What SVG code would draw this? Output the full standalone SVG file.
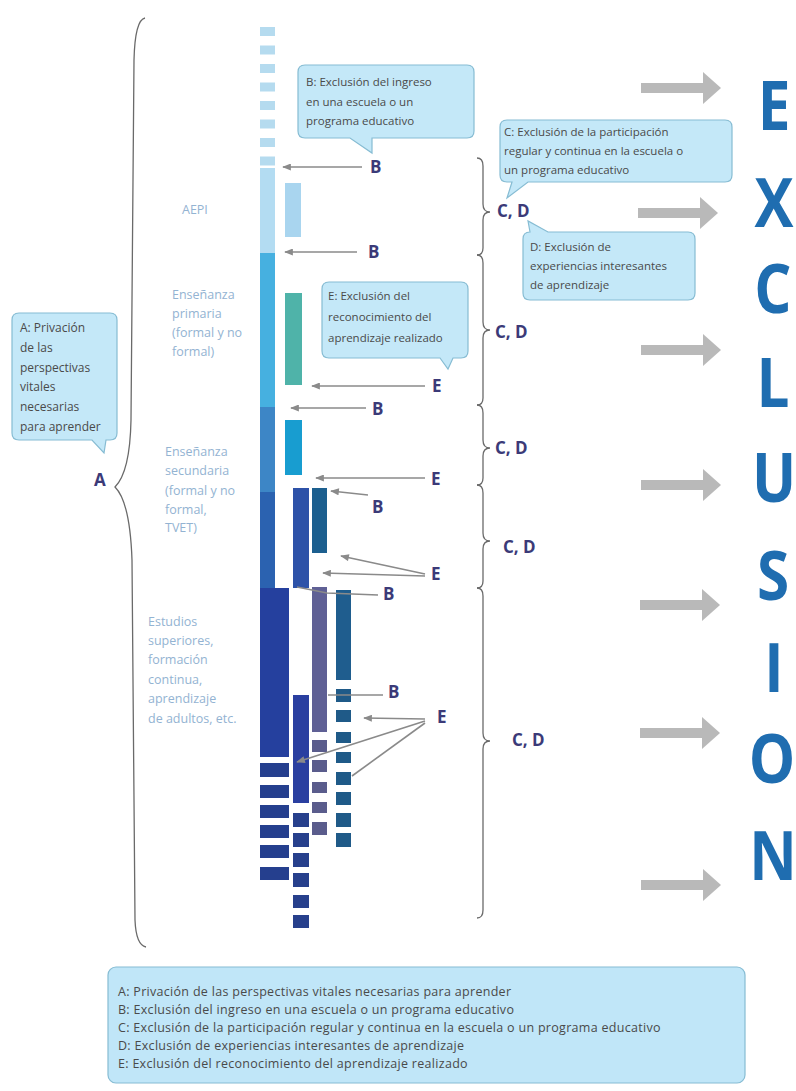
<svg xmlns="http://www.w3.org/2000/svg" width="796" height="1091" viewBox="0 0 796 1091">
<style>
.t{font-family:"Open Sans","Liberation Sans",sans-serif;font-size:11.5px;fill:#4a4a4a}
.ta{font-family:"Open Sans","Liberation Sans",sans-serif;font-size:12px;fill:#4a4a4a}
.lg{font-family:"Open Sans","Liberation Sans",sans-serif;font-size:12.5px;letter-spacing:0.3px;fill:#4a4a4a}
.lb{font-family:"Open Sans","Liberation Sans",sans-serif;font-size:12.5px;fill:#93b3d2}
.k{font-family:"Open Sans","Liberation Sans",sans-serif;font-size:17px;font-weight:700;fill:#3b3a78}
.big{font-family:"Open Sans","Liberation Sans",sans-serif;font-size:68px;font-weight:700;fill:#1f6db0;text-anchor:middle}
.call{fill:#c4e8f8;stroke:#86bcd3;stroke-width:1.2}
.ln{stroke:#8a8a8a;stroke-width:1.6;fill:none}
.br{stroke:#6a6a6a;stroke-width:1.3;fill:none}
.ga{fill:#b9b9b9}
</style>
<defs>
<marker id="ah" viewBox="0 0 10 8" refX="9" refY="4" markerWidth="10" markerHeight="7" markerUnits="userSpaceOnUse" orient="auto"><path d="M0,0 L10,4 L0,8 Z" fill="#8a8a8a"/></marker>
<path id="garrow" d="M0,-5 H62 V-16 L80,0 L62,16 V5 H0 Z"/>
</defs>
<rect width="796" height="1091" fill="#ffffff"/>

<g id="left-brace"><path class="br" d="M145,18 Q135,20 134,60 L131,420 Q130,472 115,487 Q130,502 132,560 L135,920 Q136,945 146,947"/></g>

<g id="callout-A">
<path class="call" d="M19,313 H110 Q117,313 117,320 V433 Q117,440 110,440 H106 L104,453 L92,440 H19 Q12,440 12,433 V320 Q12,313 19,313 Z"/>
<text class="ta"><tspan x="20" y="332">A: Privación</tspan><tspan x="20" y="352">de las</tspan><tspan x="20" y="372">perspectivas</tspan><tspan x="20" y="391">vitales</tspan><tspan x="20" y="411">necesarias</tspan><tspan x="20" y="431">para aprender</tspan></text>
</g>
<g id="label-A"><text class="k" x="94" y="486">A</text></g>

<g id="stage-labels">
<text class="lb" x="182" y="214">AEPI</text>
<text class="lb"><tspan x="172" y="299">Enseñanza</tspan><tspan x="172" y="318">primaria</tspan><tspan x="172" y="337">(formal y no</tspan><tspan x="172" y="356">formal)</tspan></text>
<text class="lb"><tspan x="165" y="456">Enseñanza</tspan><tspan x="165" y="475">secundaria</tspan><tspan x="165" y="495">(formal y no</tspan><tspan x="165" y="514">formal,</tspan><tspan x="165" y="532">TVET)</tspan></text>
<text class="lb"><tspan x="148" y="626">Estudios</tspan><tspan x="148" y="645">superiores,</tspan><tspan x="148" y="664">formación</tspan><tspan x="148" y="684">continua,</tspan><tspan x="148" y="703">aprendizaje</tspan><tspan x="148" y="723">de adultos, etc.</tspan></text>
</g>

<g id="column-1">
<g fill="#b5dbef">
<rect x="260" y="27" width="15" height="9"/><rect x="260" y="45.5" width="15" height="9"/><rect x="260" y="64" width="15" height="9"/><rect x="260" y="82.5" width="15" height="9"/><rect x="260" y="101" width="15" height="9"/><rect x="260" y="119.5" width="15" height="9"/><rect x="260" y="138" width="15" height="9"/><rect x="260" y="156.5" width="15" height="9"/>
</g>
<rect x="260" y="168" width="15" height="85" fill="#b3dcf2"/>
<rect x="260" y="253" width="15" height="154" fill="#46b0e0"/>
<rect x="260" y="407" width="15" height="85" fill="#3d86c6"/>
<rect x="260" y="492" width="15" height="96" fill="#2b62b0"/>
<rect x="260" y="588" width="29" height="169" fill="#25409e"/>
<g fill="#253f8e">
<rect x="260" y="763" width="29" height="14"/><rect x="260" y="785" width="29" height="13"/><rect x="260" y="805" width="29" height="13"/><rect x="260" y="825" width="29" height="13"/><rect x="260" y="845" width="29" height="13"/><rect x="260" y="867" width="29" height="13"/>
</g>
</g>

<g id="column-2">
<rect x="285" y="183" width="16" height="54" fill="#a9d5ef"/>
<rect x="285" y="293" width="17" height="92" fill="#4fb3a9"/>
<rect x="285" y="420" width="17" height="55" fill="#189dd0"/>
<rect x="293" y="488" width="16" height="100" fill="#2d52a8"/>
<rect x="293" y="695" width="16" height="108" fill="#2a3fa0"/>
<g fill="#27408c">
<rect x="293" y="813" width="16" height="14"/><rect x="293" y="833" width="16" height="14"/><rect x="293" y="853" width="16" height="14"/><rect x="293" y="873" width="16" height="14"/><rect x="293" y="895" width="16" height="13"/><rect x="293" y="915" width="16" height="13"/>
</g>
</g>

<g id="column-3">
<rect x="312" y="488" width="15" height="65" fill="#1c5f8f"/>
<rect x="312" y="587" width="15" height="145" fill="#5f6095"/>
<g fill="#5a5c8c">
<rect x="312" y="740" width="15" height="12"/><rect x="312" y="760" width="15" height="12"/><rect x="312" y="782" width="15" height="11"/><rect x="312" y="802" width="15" height="11"/><rect x="312" y="822" width="15" height="13"/>
</g>
</g>

<g id="column-4">
<rect x="336" y="590" width="15" height="90" fill="#1f5d8e"/>
<g fill="#1f5a88">
<rect x="336" y="689" width="15" height="13"/><rect x="336" y="710" width="15" height="12"/><rect x="336" y="732" width="15" height="11"/><rect x="336" y="752" width="15" height="11"/><rect x="336" y="772" width="15" height="13"/><rect x="336" y="792" width="15" height="13"/><rect x="336" y="813" width="15" height="14"/><rect x="336" y="833" width="15" height="14"/>
</g>
</g>

<g id="connectors">
<line class="ln" x1="362" y1="167" x2="283" y2="167" marker-end="url(#ah)"/>
<line class="ln" x1="357" y1="252" x2="285" y2="252" marker-end="url(#ah)"/>
<line class="ln" x1="425" y1="386" x2="312" y2="386" marker-end="url(#ah)"/>
<line class="ln" x1="366" y1="408" x2="291" y2="408" marker-end="url(#ah)"/>
<line class="ln" x1="425" y1="478" x2="316" y2="478" marker-end="url(#ah)"/>
<line class="ln" x1="368" y1="495" x2="331" y2="491" marker-end="url(#ah)"/>
<line class="ln" x1="425" y1="574" x2="341" y2="556" marker-end="url(#ah)"/>
<line class="ln" x1="425" y1="576" x2="323" y2="573" marker-end="url(#ah)"/>
<polyline class="ln" points="378,595 327,593 297,587"/>
<line class="ln" x1="383" y1="695" x2="328" y2="695"/>
<line class="ln" x1="425" y1="719" x2="364" y2="718" marker-end="url(#ah)"/>
<line class="ln" x1="425" y1="721" x2="297" y2="762" marker-end="url(#ah)"/>
<line class="ln" x1="425" y1="723" x2="352" y2="776"/>
</g>

<g id="labels-BE">
<text class="k" x="370" y="173">B</text>
<text class="k" x="368" y="258">B</text>
<text class="k" x="432" y="392">E</text>
<text class="k" x="372" y="415">B</text>
<text class="k" x="431" y="485">E</text>
<text class="k" x="372" y="513">B</text>
<text class="k" x="431" y="580">E</text>
<text class="k" x="383" y="600">B</text>
<text class="k" x="388" y="698">B</text>
<text class="k" x="437" y="723">E</text>
</g>

<g id="right-braces">
<path class="br" d="M477,158 Q483,158 483,166 L483,204 Q483,212 490,212 Q483,212 483,220 L483,248 Q483,255 477,255"/>
<path class="br" d="M477,255 Q483,255 483,263 L483,322 Q483,330 490,330 Q483,330 483,338 L483,398 Q483,405 477,405"/>
<path class="br" d="M477,405 Q483,405 483,413 L483,440 Q483,448 490,448 Q483,448 483,456 L483,478 Q483,485 477,485"/>
<path class="br" d="M477,485 Q483,485 483,493 L483,533 Q483,541 490,541 Q483,541 483,549 L483,581 Q483,588 477,588"/>
<path class="br" d="M477,588 Q483,588 483,596 L483,733 Q483,741 490,741 Q483,741 483,749 L483,910 Q483,918 477,918"/>
</g>
<g id="labels-CD">
<text class="k" x="497" y="217">C, D</text>
<text class="k" x="495" y="338">C, D</text>
<text class="k" x="495" y="454">C, D</text>
<text class="k" x="503" y="553">C, D</text>
<text class="k" x="512" y="746">C, D</text>
</g>

<g id="callout-B">
<path class="call" d="M305,65 H467 Q474,65 474,72 V131 Q474,138 467,138 H372 L372,153 L350,138 H305 Q298,138 298,131 V72 Q298,65 305,65 Z"/>
<text class="t"><tspan x="306" y="86">B: Exclusión del ingreso</tspan><tspan x="306" y="106">en una escuela o un</tspan><tspan x="306" y="125">programa educativo</tspan></text>
</g>
<g id="callout-C">
<path class="call" d="M507,120 H725 Q732,120 732,127 V175 Q732,182 725,182 H528 L507,198 L512,182 H507 Q500,182 500,175 V127 Q500,120 507,120 Z"/>
<text class="t"><tspan x="504" y="136">C: Exclusión de la participación</tspan><tspan x="504" y="155">regular y continua en la escuela o</tspan><tspan x="504" y="174">un programa educativo</tspan></text>
</g>
<g id="callout-D">
<path class="call" d="M530,232 L528,221 L548,232 H688 Q695,232 695,239 V293 Q695,300 688,300 H530 Q523,300 523,293 V239 Q523,232 530,232 Z"/>
<text class="t"><tspan x="530" y="251">D: Exclusión de</tspan><tspan x="530" y="270">experiencias interesantes</tspan><tspan x="530" y="289">de aprendizaje</tspan></text>
</g>
<g id="callout-E">
<path class="call" d="M329,282 H461 Q468,282 468,289 V351 Q468,358 461,358 H453 L448,369 L440,358 H329 Q322,358 322,351 V289 Q322,282 329,282 Z"/>
<text class="t"><tspan x="328" y="300">E: Exclusión del</tspan><tspan x="328" y="321">reconocimiento del</tspan><tspan x="328" y="342">aprendizaje realizado</tspan></text>
</g>

<g id="grey-arrows" class="ga">
<use href="#garrow" transform="translate(641,88)"/>
<use href="#garrow" transform="translate(638,213)"/>
<use href="#garrow" transform="translate(641,350)"/>
<use href="#garrow" transform="translate(641,485)"/>
<use href="#garrow" transform="translate(640,605)"/>
<use href="#garrow" transform="translate(640,733)"/>
<use href="#garrow" transform="translate(641,885)"/>
</g>

<g id="exclusion-word">
<text class="big" transform="translate(774,130) scale(0.86,1)">E</text>
<text class="big" transform="translate(774,227) scale(0.86,1)">X</text>
<text class="big" transform="translate(773,313) scale(0.86,1)">C</text>
<text class="big" transform="translate(773,407) scale(0.86,1)">L</text>
<text class="big" transform="translate(774,502) scale(0.86,1)">U</text>
<text class="big" transform="translate(773,600) scale(0.86,1)">S</text>
<text class="big" transform="translate(774,692) scale(0.86,1)">I</text>
<text class="big" transform="translate(772,783) scale(0.86,1)">O</text>
<text class="big" transform="translate(773,880) scale(0.86,1)">N</text>
</g>

<g id="legend">
<rect x="108" y="967" width="637" height="116" rx="8" fill="#c0e6f8" stroke="#86bcd3" stroke-width="1.2"/>
<text class="lg"><tspan x="118" y="996">A: Privación de las perspectivas vitales necesarias para aprender</tspan><tspan x="118" y="1014">B: Exclusión del ingreso en una escuela o un programa educativo</tspan><tspan x="118" y="1032">C: Exclusión de la participación regular y continua en la escuela o un programa educativo</tspan><tspan x="118" y="1050">D: Exclusión de experiencias interesantes de aprendizaje</tspan><tspan x="118" y="1068">E: Exclusión del reconocimiento del aprendizaje realizado</tspan></text>
</g>
</svg>
